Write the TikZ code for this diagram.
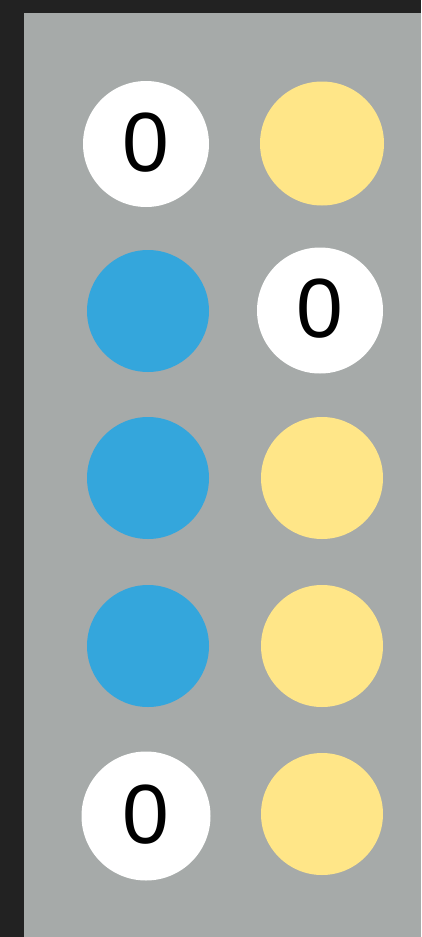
\documentclass[tikz,border=0pt]{standalone}
\usepackage{fontspec}
\setmainfont{Liberation Sans}
\definecolor{darkbg}{RGB}{34,34,34}
\definecolor{panel}{RGB}{166,170,169}
\definecolor{ballblue}{RGB}{52,166,220}
\definecolor{ballyellow}{RGB}{255,230,136}
\begin{document}
\begin{tikzpicture}[x=1pt,y=-1pt,
  ball/.style={circle,inner sep=0pt,minimum size=122pt,draw=none},
  blueball/.style={ball,fill=ballblue},
  yellowball/.style={ball,fill=ballyellow},
  zeroball/.style={ball,fill=white,minimum size=126pt,font=\fontsize{84}{84}\selectfont,text=black}]
\useasboundingbox (0,0) rectangle (421,937);
\fill[darkbg] (0,0) rectangle (421,937);
\fill[panel] (24,13) rectangle (421,937);
% left column
\node[zeroball] (l1) at (146,144) {\raisebox{4pt}{0}};
\node[blueball] (l2) at (148,311) {};
\node[blueball] (l3) at (148,478) {};
\node[blueball] (l4) at (148,646) {};
\node[zeroball,minimum size=129pt] (l5) at (146,816) {\raisebox{4pt}{0}};
% right column
\node[yellowball,minimum size=124pt] (r1) at (322,143.5) {};
\node[zeroball] (r2) at (320,310.5) {\raisebox{4pt}{0}};
\node[yellowball] (r3) at (322,478) {};
\node[yellowball] (r4) at (322,646) {};
\node[yellowball] (r5) at (322,814) {};
\end{tikzpicture}
\end{document}
